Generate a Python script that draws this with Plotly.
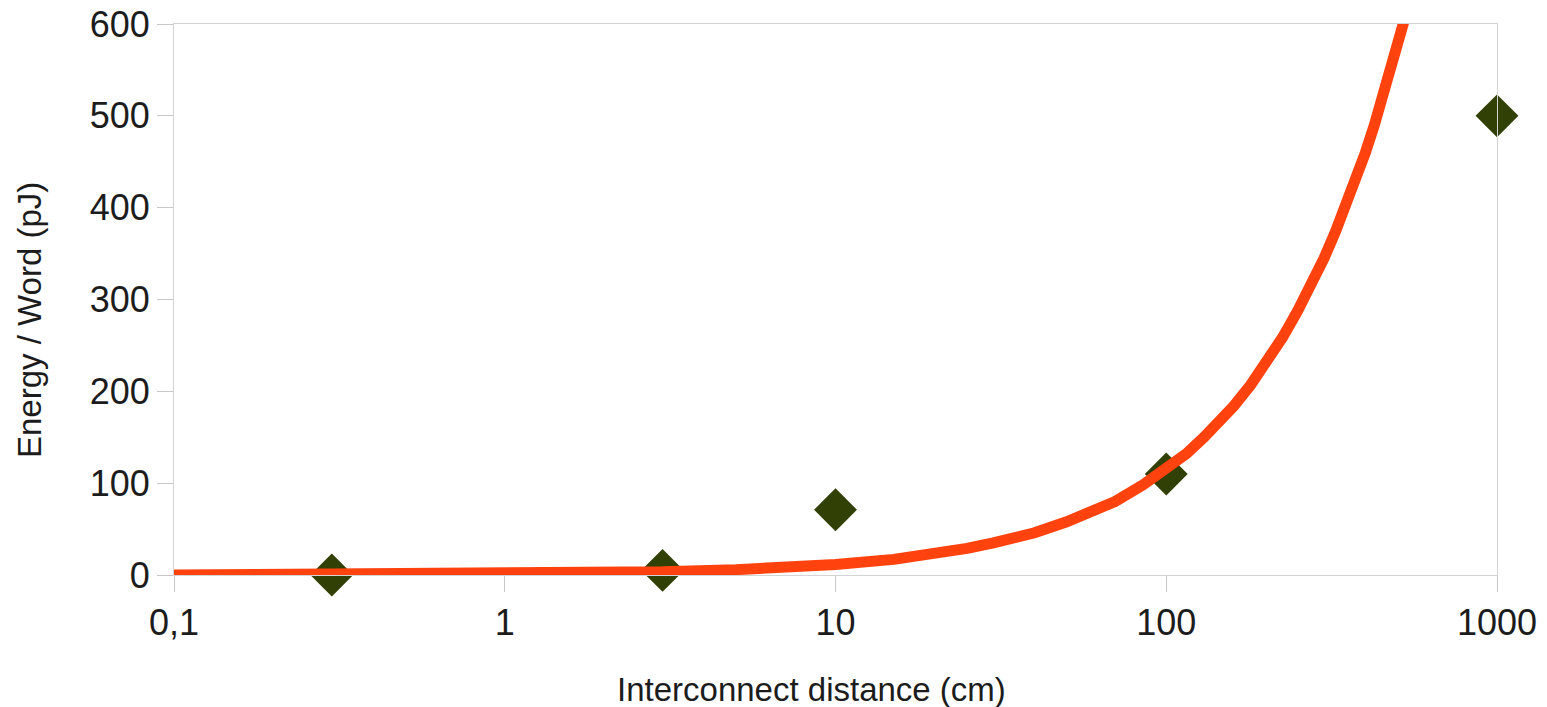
import plotly.graph_objects as go

# Measured data points (diamonds)
dist_cm = [0.3, 3, 10, 100, 1000]
energy_pj = [0, 5, 71, 110, 500]

# Trend line
trend_x = [0.1, 0.2, 0.5, 1, 2, 3, 5, 7, 10, 15, 20, 25, 30, 40, 50, 60, 70, 85, 100,
           115, 130, 145, 160, 180, 200, 225, 250, 275, 300, 325, 350, 375, 400,
           425, 450, 475, 500, 530]
trend_y = [0.1, 0.2, 0.6, 1.2, 2.3, 3.5, 5.8, 8, 11.5, 17, 23, 29, 35, 46, 58, 69, 80, 98, 115,
           132, 150, 167, 184, 207, 230, 259, 288, 316, 345, 374, 403, 431, 460,
           489, 518, 546, 575, 610]

x_tickvals = [0.1, 1, 10, 100, 1000]
x_ticktext = ["0,1", "1", "10", "100", "1000"]
y_tickvals = [0, 100, 200, 300, 400, 500, 600]

x_title = "Interconnect distance (cm)"
y_title = "Energy / Word (pJ)"

FONT = "Liberation Sans, Arial, sans-serif"
TXT = "#1c1c1c"

fig = go.Figure()
fig.add_trace(go.Scatter(
    x=dist_cm, y=energy_pj, mode="markers",
    marker=dict(symbol="diamond", size=33, color="#314004", line=dict(width=0)),
    cliponaxis=False, showlegend=False,
))
fig.add_trace(go.Scatter(
    x=trend_x, y=trend_y, mode="lines",
    line=dict(color="#ff420e", width=11),
    showlegend=False,
))

fig.update_layout(
    width=1531, height=699,
    margin=dict(l=166, r=42, t=16, b=132),
    paper_bgcolor="white", plot_bgcolor="white",
    font=dict(family=FONT, color=TXT, size=36),
    xaxis=dict(
        type="log", range=[-1, 3], automargin=False,
        tickvals=x_tickvals, ticktext=x_ticktext, ticklabeloverflow="allow",
        ticks="outside", ticklen=16, tickcolor="#c8c8c8", tickwidth=1,
        showline=True, linecolor="#d4d4d4", linewidth=1, mirror=True,
        showgrid=False, zeroline=False,
        tickfont=dict(size=36, family=FONT, color=TXT),
    ),
    yaxis=dict(
        range=[0, 600], tickvals=y_tickvals, automargin=False, ticklabeloverflow="allow",
        ticks="outside", ticklen=16, tickcolor="#c8c8c8", tickwidth=1,
        showline=True, linecolor="#d4d4d4", linewidth=1, mirror=True,
        showgrid=False, zeroline=False,
        tickfont=dict(size=36, family=FONT, color=TXT),
    ),
    annotations=[
        dict(text=x_title, xref="paper", yref="paper", x=0.482, y=-0.2087,
             xanchor="center", yanchor="middle", showarrow=False,
             font=dict(size=33, family=FONT, color=TXT)),
        dict(text=y_title, xref="paper", yref="paper", x=-0.1088, y=0.4628,
             xanchor="center", yanchor="middle", showarrow=False, textangle=-90,
             font=dict(size=33, family=FONT, color=TXT)),
    ],
)

fig.write_html("out.html")
